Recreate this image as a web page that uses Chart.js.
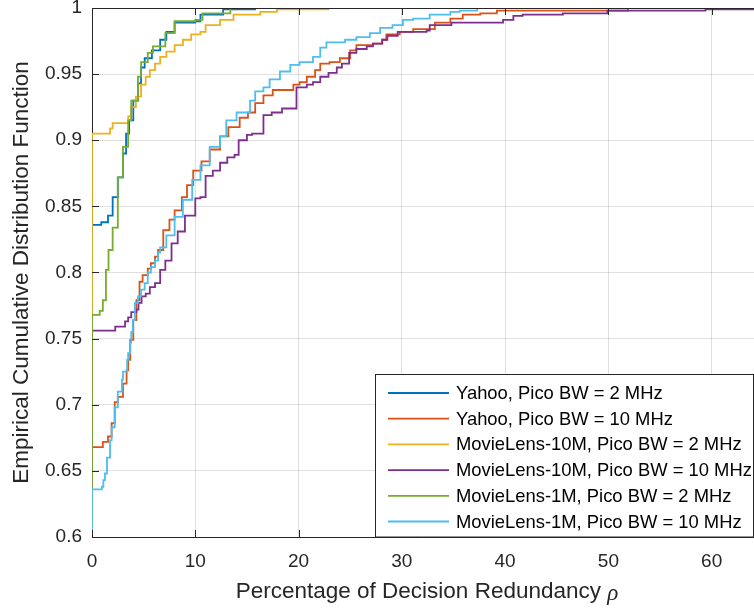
<!DOCTYPE html>
<html>
<head>
<meta charset="utf-8">
<title>ECDF of decision redundancy</title>
<script src="https://cdn.jsdelivr.net/npm/chart.js@4.4.1/dist/chart.umd.min.js"></script>
<style>
  html, body { margin: 0; padding: 0; background: #fff; overflow: hidden; }
  #wrap { width: 754px; height: 611px; }
</style>
</head>
<body>
<div id="wrap"><canvas id="ecdfChart" width="754" height="611"></canvas></div>
<script>
// ECDF samples per configuration: x = redundancy (%), y = cumulative fraction
const yahoo2X = [0, 0, 0.9, 1.55, 2.0, 2.5, 3.0, 3.3, 3.6, 4.0, 4.45, 4.75, 5.1, 5.8, 6.6, 7.2, 8.0, 10.0, 10.5, 12.7, 15.8];
const yahoo2Y = [0, 0.836, 0.838, 0.843, 0.857, 0.872, 0.890, 0.905, 0.915, 0.930, 0.943, 0.955, 0.962, 0.968, 0.976, 0.982, 0.989, 0.990, 0.995, 0.999, 1];

const yahoo10X = [0, 0, 1.05, 1.55, 1.9, 2.2, 2.5, 3.0, 3.35, 3.5, 3.7, 4.0, 4.3, 4.6, 4.9, 5.4, 5.7, 6.1, 6.4,
  6.9, 7.5, 8.0, 8.7, 9.2, 9.8, 10.6, 11.4, 12.4, 13.2, 14.3, 15.1, 15.8, 16.6, 17.5, 19.5, 20.1, 20.8, 21.6, 22.1,
  23.0, 24.0, 25.0, 25.6, 27.2, 28.1, 28.5, 29.8, 31.1, 33.2, 34.7, 35.9, 37.6, 39.2, 51.9];
const yahoo10Y = [0, 0.668, 0.672, 0.676, 0.686, 0.702, 0.706, 0.716, 0.726, 0.734, 0.749, 0.764, 0.779, 0.793, 0.798, 0.803, 0.807, 0.812, 0.817,
  0.832, 0.840, 0.847, 0.857, 0.866, 0.877, 0.884, 0.893, 0.903, 0.910, 0.917, 0.921, 0.928, 0.934, 0.938, 0.942, 0.944, 0.948, 0.953, 0.958,
  0.959, 0.962, 0.968, 0.972, 0.973, 0.976, 0.980, 0.982, 0.984, 0.989, 0.992, 0.995, 0.996, 0.998, 1];

const ml10m2X = [0, 0, 1.75, 2.0, 3.5, 3.8, 4.25, 4.75, 5.2, 5.6, 6.1, 6.6, 7.2, 8.0, 8.8, 9.6, 10.5, 11.0, 12.4, 13.7, 16.3, 17.9, 22.9];
const ml10m2Y = [0, 0.905, 0.909, 0.913, 0.918, 0.925, 0.933, 0.942, 0.948, 0.953, 0.958, 0.963, 0.967, 0.972, 0.976, 0.980, 0.982, 0.987, 0.991, 0.995, 0.997, 0.999, 1];

const ml10m10X = [0, 0, 2.25, 3.2, 3.5, 3.8, 4.3, 4.5, 4.8, 5.2, 5.6, 6.1, 6.6, 7.1, 7.7, 8.3, 9.0, 10.0, 10.5, 11.0,
  11.7, 12.4, 13.1, 13.8, 14.2, 15.0, 15.5, 16.6, 17.4, 18.4, 19.8, 20.8, 21.4, 22.1, 22.9, 23.7, 24.2, 24.9, 25.6, 26.6,
  27.2, 28.1, 28.6, 29.6, 32.4, 32.7, 34.8, 39.8, 40.8, 41.7, 45.6, 49.9, 59.4, 66];
const ml10m10Y = [0, 0.756, 0.759, 0.763, 0.766, 0.770, 0.772, 0.777, 0.782, 0.784, 0.789, 0.792, 0.802, 0.809, 0.822, 0.831, 0.843, 0.856, 0.857, 0.873,
  0.877, 0.883, 0.887, 0.889, 0.900, 0.904, 0.905, 0.919, 0.921, 0.924, 0.940, 0.942, 0.944, 0.948, 0.951, 0.955, 0.958, 0.966, 0.969, 0.971,
  0.973, 0.976, 0.979, 0.982, 0.983, 0.987, 0.989, 0.991, 0.994, 0.995, 0.996, 0.998, 0.999, 1];

const ml1m2X = [0, 0, 0.75, 1.05, 1.35, 1.6, 2.0, 2.5, 3.0, 3.5, 3.8, 4.45, 4.75, 5.4, 5.9, 7.1, 8.0, 10.0, 10.7, 13.4];
const ml1m2Y = [0, 0.768, 0.771, 0.779, 0.802, 0.817, 0.834, 0.872, 0.895, 0.915, 0.930, 0.948, 0.959, 0.966, 0.971, 0.981, 0.990, 0.991, 0.996, 1];

const ml1m10X = [0, 0, 0.95, 1.1, 1.25, 1.45, 1.75, 1.9, 2.2, 2.5, 2.9, 3.0, 3.4, 3.5, 3.7, 3.8, 3.95, 4.15, 4.45, 4.75,
  5.1, 5.4, 5.7, 6.1, 6.4, 6.6, 7.2, 8.0, 8.8, 9.7, 10.5, 11.4, 12.4, 13.0, 14.0, 15.3, 15.8, 16.6, 17.2, 18.2,
  19.2, 20.1, 21.4, 22.1, 22.7, 24.5, 25.6, 26.9, 27.9, 29.1, 30.1, 31.1, 32.7, 34.7, 35.6, 37.3];
const ml1m10Y = [0, 0.636, 0.638, 0.643, 0.648, 0.660, 0.673, 0.683, 0.698, 0.710, 0.719, 0.725, 0.734, 0.739, 0.747, 0.755, 0.764, 0.777, 0.782, 0.787,
  0.792, 0.800, 0.804, 0.809, 0.815, 0.819, 0.828, 0.842, 0.855, 0.870, 0.881, 0.895, 0.903, 0.915, 0.921, 0.930, 0.937, 0.940, 0.946, 0.952,
  0.957, 0.959, 0.963, 0.970, 0.974, 0.976, 0.978, 0.981, 0.985, 0.987, 0.991, 0.992, 0.995, 0.997, 0.998, 1];

const seriesLabels = [
  "Yahoo, Pico BW = 2 MHz",
  "Yahoo, Pico BW = 10 MHz",
  "MovieLens-10M, Pico BW = 2 MHz",
  "MovieLens-10M, Pico BW = 10 MHz",
  "MovieLens-1M, Pico BW = 2 MHz",
  "MovieLens-1M, Pico BW = 10 MHz"
];
const seriesX = [yahoo2X, yahoo10X, ml10m2X, ml10m10X, ml1m2X, ml1m10X];
const seriesY = [yahoo2Y, yahoo10Y, ml10m2Y, ml10m10Y, ml1m2Y, ml1m10Y];
const seriesColors = ["#0072BD", "#D95319", "#EDB120", "#7E2F8E", "#77AC30", "#4DBEEE"];

const xTicks = [0, 10, 20, 30, 40, 50, 60];
const yTicks = [0.6, 0.65, 0.7, 0.75, 0.8, 0.85, 0.9, 0.95, 1];
const yTickLabels = ["0.6", "0.65", "0.7", "0.75", "0.8", "0.85", "0.9", "0.95", "1"];

const xTitle = "Percentage of Decision Redundancy ";
const xTitleSymbol = "ρ";

const FONT = "'Liberation Sans', Arial, Helvetica, sans-serif";
const SERIF = "'Liberation Serif', 'Times New Roman', serif";
const AXIS_COLOR = "#262626";
const GRID_COLOR = "rgba(38,38,38,0.15)";

const datasets = seriesLabels.map((label, i) => ({
  label,
  data: seriesX[i].map((x, j) => ({ x, y: seriesY[i][j] })),
  borderColor: seriesColors[i],
  backgroundColor: seriesColors[i],
  borderWidth: 1.8,
  pointRadius: 0,
  stepped: true,
  fill: false,
  order: seriesLabels.length - i
}));

// top edge of the box and inward tick marks
const axesBox = {
  id: "axesBox",
  afterDatasetsDraw(chart) {
    const { ctx, chartArea: a, scales } = chart;
    const tick = 7;
    ctx.save();
    ctx.strokeStyle = AXIS_COLOR;
    ctx.lineWidth = 1;
    ctx.beginPath();
    ctx.moveTo(a.left, a.top + 0.5);
    ctx.lineTo(a.right, a.top + 0.5);
    scales.x.ticks.forEach(t => {
      const px = Math.round(scales.x.getPixelForValue(t.value)) + 0.5;
      ctx.moveTo(px, a.bottom);
      ctx.lineTo(px, a.bottom - tick);
      ctx.moveTo(px, a.top);
      ctx.lineTo(px, a.top + tick);
    });
    scales.y.ticks.forEach(t => {
      const py = Math.round(scales.y.getPixelForValue(t.value)) + 0.5;
      ctx.moveTo(a.left, py);
      ctx.lineTo(a.left + tick, py);
    });
    ctx.stroke();
    ctx.restore();
  }
};

// x label with an italic rho at the end
const xLabel = {
  id: "xLabel",
  afterDraw(chart) {
    const ctx = chart.ctx;
    const mainFont = "22.5px " + FONT;
    const symFont = "italic 23px " + SERIF;
    ctx.save();
    ctx.font = mainFont;
    const w1 = ctx.measureText(xTitle).width;
    ctx.font = symFont;
    const w2 = ctx.measureText(xTitleSymbol).width;
    const start = 427 - (w1 + w2) / 2;
    ctx.fillStyle = AXIS_COLOR;
    ctx.textBaseline = "middle";
    ctx.font = mainFont;
    ctx.fillText(xTitle, start, 592);
    ctx.font = symFont;
    ctx.fillText(xTitleSymbol, start + w1, 594);
    ctx.restore();
  }
};

const boxLegend = {
  id: "boxLegend",
  afterDraw(chart) {
    const ctx = chart.ctx;
    const left = 375.5, top = 374.5, right = 753.5, bottom = 537;
    const rowStart = 393, rowGap = 25.7;
    ctx.save();
    ctx.fillStyle = "#fff";
    ctx.fillRect(left, top, right - left, bottom - top);
    ctx.strokeStyle = AXIS_COLOR;
    ctx.lineWidth = 1;
    ctx.strokeRect(left, top, right - left, bottom - top);
    ctx.font = "18.4px " + FONT;
    ctx.textBaseline = "middle";
    chart.data.datasets.forEach((ds, i) => {
      const y = rowStart + i * rowGap;
      ctx.strokeStyle = ds.borderColor;
      ctx.lineWidth = 1.8;
      ctx.beginPath();
      ctx.moveTo(388, y);
      ctx.lineTo(449, y);
      ctx.stroke();
      ctx.fillStyle = "#000";
      ctx.fillText(ds.label, 456, y + 1);
    });
    ctx.restore();
  }
};

const ctx = document.getElementById("ecdfChart").getContext("2d");

new Chart(ctx, {
  type: "line",
  data: { datasets },
  plugins: [axesBox, xLabel, boxLegend],
  options: {
    responsive: false,
    animation: false,
    layout: { padding: { top: 8, left: 0, right: 0, bottom: 0 } },
    plugins: {
      legend: { display: false },
      tooltip: { enabled: false }
    },
    scales: {
      x: {
        type: "linear",
        min: 0,
        max: 64.1,
        afterBuildTicks: scale => { scale.ticks = xTicks.map(v => ({ value: v })); },
        afterFit: scale => {
          scale.height = 74;
          scale.paddingLeft = 0;
          scale.paddingRight = 0;
        },
        grid: { color: GRID_COLOR, drawTicks: false },
        border: { color: AXIS_COLOR, width: 1 },
        ticks: { color: AXIS_COLOR, font: { family: FONT, size: 19 }, padding: 13, maxRotation: 0 },
        title: { display: false }
      },
      y: {
        min: 0.6,
        max: 1,
        afterBuildTicks: scale => { scale.ticks = yTicks.map(v => ({ value: v })); },
        afterFit: scale => {
          scale.width = 92;
          scale.paddingTop = 0;
          scale.paddingBottom = 0;
        },
        grid: { color: GRID_COLOR, drawTicks: false },
        border: { color: AXIS_COLOR, width: 1 },
        ticks: {
          color: AXIS_COLOR,
          font: { family: FONT, size: 19 },
          padding: 10,
          callback: (value, index) => yTickLabels[index]
        },
        title: {
          display: true,
          text: "Empirical Cumulative Distribution Function",
          color: AXIS_COLOR,
          font: { family: FONT, size: 22.5 },
          padding: { top: 8, bottom: 0 }
        }
      }
    }
  }
});
</script>
</body>
</html>
